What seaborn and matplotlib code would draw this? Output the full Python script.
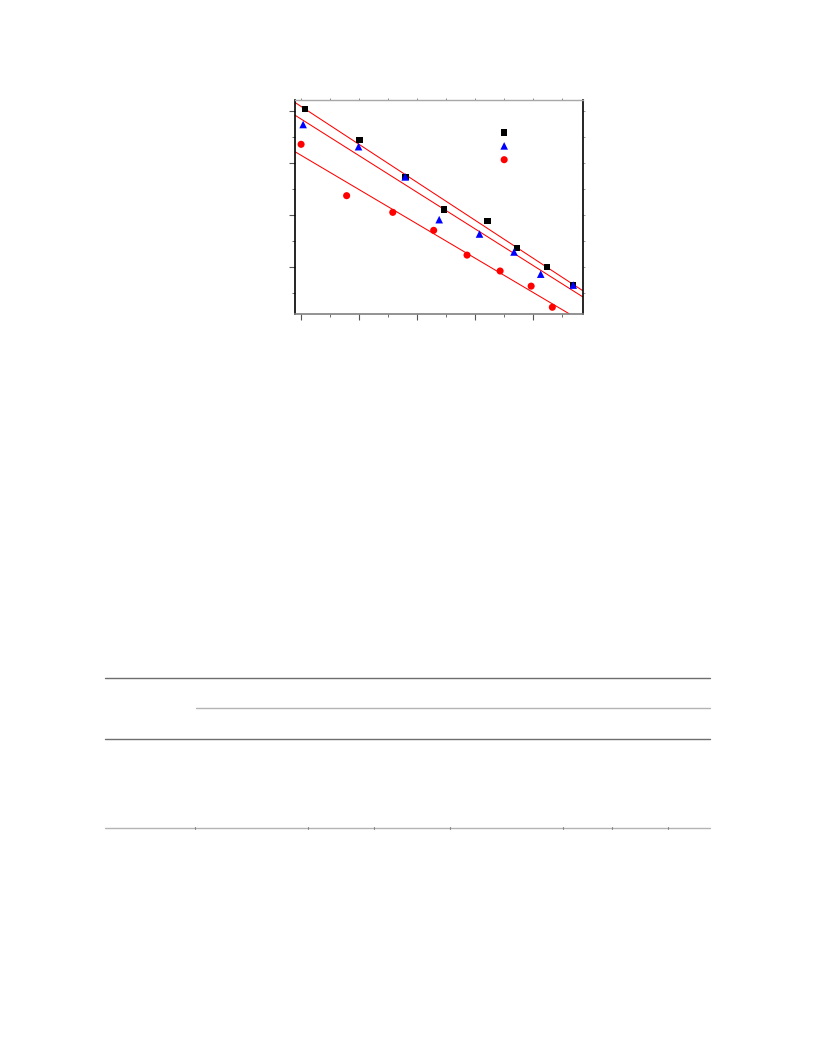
import numpy as np
import pandas as pd
import seaborn as sns
import matplotlib.pyplot as plt
from matplotlib.lines import Line2D
from matplotlib.ticker import MultipleLocator

# values (axis units are tick steps, no labels shown)
x_sq = [0.14, 2.02, 3.60, 4.92, 6.43, 7.45, 8.47, 9.38]
y_sq = [8.06, 6.87, 5.46, 4.21, 3.76, 2.74, 2.01, 1.32]
x_tri = [0.07, 1.98, 3.59, 4.76, 6.15, 7.34, 8.26, 9.38]
y_tri = [7.47, 6.62, 5.46, 3.82, 3.27, 2.58, 1.73, 1.31]
x_dot = [0.00, 1.57, 3.16, 4.57, 5.72, 6.86, 7.93, 8.66]
y_dot = [6.71, 4.74, 4.10, 3.41, 2.46, 1.85, 1.27, 0.46]
legend_x = 7.0
legend_y = [7.16, 6.65, 6.12]

series = [
    (x_sq, y_sq, 's', 'black', 22),
    (x_tri, y_tri, '^', 'blue', 30),
    (x_dot, y_dot, 'o', 'red', 26),
]

sns.set_style('white')
fig = plt.figure(figsize=(8.16, 10.56), dpi=100)
ax = fig.add_axes([295 / 816, 1 - 313.5 / 1056, 287.5 / 816, 213.5 / 1056])
ax.set_xlim(-0.21, 9.70)
ax.set_ylim(0.22, 8.41)

for xs, ys, m, c, s in series:
    df = pd.DataFrame({'x': xs, 'y': ys})
    sns.regplot(data=df, x='x', y='y', ax=ax, ci=None, truncate=False,
                scatter=False, line_kws={'color': 'red', 'lw': 0.75})
    sns.scatterplot(data=df, x='x', y='y', ax=ax, marker=m, color=c, s=s,
                    edgecolor='none', zorder=3)

# legend symbols only (no text in the source)
for (xs, ys, m, c, s), ly in zip(series, legend_y):
    ax.scatter([legend_x], [ly], marker=m, color=c, s=s, edgecolor='none', zorder=3)

ax.set_xlim(-0.21, 9.70)
ax.set_ylim(0.22, 8.41)
ax.set_xlabel('')
ax.set_ylabel('')
ax.xaxis.set_major_locator(MultipleLocator(2))
ax.xaxis.set_minor_locator(MultipleLocator(1))
ax.yaxis.set_major_locator(MultipleLocator(2))
ax.yaxis.set_minor_locator(MultipleLocator(1))
ax.tick_params(which='both', labelbottom=False, labelleft=False,
               bottom=True, left=True, top=False, right=False,
               direction='out', color='#555555')
ax.tick_params(which='major', length=4, width=0.8)
ax.tick_params(which='minor', length=2, width=0.6)

# tiny ticks on top and right
sec_x = ax.secondary_xaxis('top')
sec_x.xaxis.set_major_locator(MultipleLocator(1))
sec_x.tick_params(length=1.5, width=0.6, color='#777777', labeltop=False)
sec_x.spines['top'].set_visible(False)
sec_y = ax.secondary_yaxis('right')
sec_y.yaxis.set_major_locator(MultipleLocator(1))
sec_y.tick_params(length=1.5, width=0.6, color='#888888', labelright=False)
sec_y.spines['right'].set_visible(False)

ax.spines['left'].set_color('black')
ax.spines['right'].set_color('black')
ax.spines['left'].set_linewidth(1.2)
ax.spines['right'].set_linewidth(1.2)
ax.spines['top'].set_color('#a8a8a8')
ax.spines['bottom'].set_color('#808080')
ax.spines['top'].set_linewidth(1.0)
ax.spines['bottom'].set_linewidth(1.2)

# table rules below the chart
def hline(y, x0, x1, color, lw):
    fig.add_artist(Line2D([x0 / 816, x1 / 816], [1 - y / 1056, 1 - y / 1056],
                          color=color, lw=lw))

hline(678, 105, 710, '#6e6e6e', 1.0)
hline(708, 196, 710, '#b4b4b4', 1.0)
hline(739, 105, 710, '#6e6e6e', 1.0)
hline(828, 105, 710, '#b4b4b4', 1.0)
for tx in [195, 308, 374, 450, 563, 612, 668]:
    fig.add_artist(Line2D([tx / 816, tx / 816], [1 - 826.5 / 1056, 1 - 829 / 1056],
                          color='#888888', lw=0.8))

fig.savefig('out.png', dpi=100)
